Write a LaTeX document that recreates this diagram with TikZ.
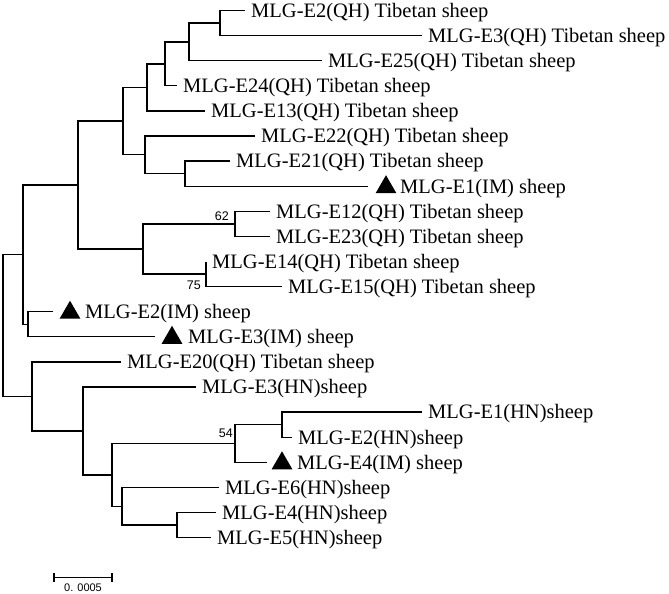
\documentclass[tikz,border=0pt]{standalone}
\usepackage{fontspec}
\setmainfont{Liberation Serif}
\newfontfamily\lsans{Liberation Sans}
\usetikzlibrary{shapes.geometric}
\begin{document}
\begin{tikzpicture}[x=1pt,y=-1pt,
  br/.style={line width=1.35pt},
  leaf/.style={anchor=west, inner xsep=6pt, inner ysep=0pt, text height=13.6pt, text depth=0pt, font=\fontsize{20.5}{24}\selectfont},
  leaftxt/.style={leaf, inner xsep=0pt},
  tri/.style={regular polygon, regular polygon sides=3, fill=black, minimum size=24pt, inner sep=0pt},
  boot/.style={font=\lsans\fontsize{12.5}{14}\selectfont, inner sep=0pt, anchor=east},
  scalelbl/.style={font=\lsans\fontsize{11}{12}\selectfont, inner sep=0pt}]
\useasboundingbox (0,0) rectangle (669,594);

% leaves
\node[leaf] (l0) at (245,10.5) {MLG-E2(QH) Tibetan sheep};
\node[leaf] (l1) at (422,35.6) {MLG-E3(QH) Tibetan sheep};
\node[leaf] (l2) at (322,60.7) {MLG-E25(QH) Tibetan sheep};
\node[leaf] (l3) at (177,85.8) {MLG-E24(QH) Tibetan sheep};
\node[leaf] (l4) at (205,110.9) {MLG-E13(QH) Tibetan sheep};
\node[leaf] (l5) at (255,136.0) {MLG-E22(QH) Tibetan sheep};
\node[leaf] (l6) at (230,161.1) {MLG-E21(QH) Tibetan sheep};
\coordinate (e7) at (368,186.2);
\node[tri] (t7) at (386,187.2) {};
\node[leaftxt] (l7) at (400,186.2) {MLG-E1(IM) sheep};
\node[leaf] (l8) at (270,211.3) {MLG-E12(QH) Tibetan sheep};
\node[leaf] (l9) at (270,236.4) {MLG-E23(QH) Tibetan sheep};
\node[leaf] (l10) at (206,261.5) {MLG-E14(QH) Tibetan sheep};
\node[leaf] (l11) at (282,286.6) {MLG-E15(QH) Tibetan sheep};
\coordinate (e12) at (53,311.7);
\node[tri] (t12) at (70,312.7) {};
\node[leaftxt] (l12) at (85,311.7) {MLG-E2(IM) sheep};
\coordinate (e13) at (155,336.8);
\node[tri] (t13) at (172,337.8) {};
\node[leaftxt] (l13) at (188,336.8) {MLG-E3(IM) sheep};
\node[leaf] (l14) at (121,361.9) {MLG-E20(QH) Tibetan sheep};
\node[leaf] (l15) at (196,387.0) {MLG-E3(HN)sheep};
\node[leaf] (l16) at (422,412.1) {MLG-E1(HN)sheep};
\node[leaf] (l17) at (292,437.2) {MLG-E2(HN)sheep};
\coordinate (e18) at (267,462.3);
\node[tri] (t18) at (282,463.3) {};
\node[leaftxt] (l18) at (297,462.3) {MLG-E4(IM) sheep};
\node[leaf] (l19) at (219,487.4) {MLG-E6(HN)sheep};
\node[leaf] (l20) at (216,512.5) {MLG-E4(HN)sheep};
\node[leaf] (l21) at (211,537.6) {MLG-E5(HN)sheep};

% internal nodes
\coordinate (K) at (220,23.05);
\coordinate (J) at (189,41.9);
\coordinate (I) at (165,63.85);
\coordinate (G) at (147,87.4);
\coordinate (L) at (185,173.65);
\coordinate (H) at (145,154.8);
\coordinate (E) at (123,121.1);
\coordinate (M) at (235,223.85);
\coordinate (N) at (206,274.05);
\coordinate (F) at (143,248.95);
\coordinate (C) at (78,185.0);
\coordinate (D) at (28,324.25);
\coordinate (A) at (23,254.6);
\coordinate (T) at (282,424.65);
\coordinate (Q) at (235,443.5);
\coordinate (U) at (177,525.05);
\coordinate (S) at (122,506.2);
\coordinate (P) at (112,474.85);
\coordinate (O) at (83,430.9);
\coordinate (B) at (32,396.4);
\coordinate (R) at (3,325.5);

% branches
\draw[br] (l0.west) -| (K) |- (l1.west);
\draw[br] (K) -| (J) |- (l2.west);
\draw[br] (J) -| (I) |- (l3.west);
\draw[br] (I) -| (G) |- (l4.west);
\draw[br] (l6.west) -| (L) |- (e7);
\draw[br] (l5.west) -| (H) |- (L);
\draw[br] (G) -| (E) |- (H);
\draw[br] (l8.west) -| (M) |- (l9.west);
\draw[br] (l10.west) -| (N) |- (l11.west);
\draw[br] (M) -| (F) |- (N);
\draw[br] (E) -| (C) |- (F);
\draw[br] (e12) -| (D) |- (e13);
\draw[br] (C) -| (A) |- (D);
\draw[br] (l16.west) -| (T) |- (l17.west);
\draw[br] (T) -| (Q) |- (e18);
\draw[br] (l20.west) -| (U) |- (l21.west);
\draw[br] (l19.west) -| (S) |- (U);
\draw[br] (Q) -| (P) |- (S);
\draw[br] (l15.west) -| (O) |- (P);
\draw[br] (l14.west) -| (B) |- (O);
\draw[br] (A) -| (R) |- (B);

% bootstrap values
\node[boot] (b62) at (229,216) {62};
\node[boot] (b75) at (201,285) {75};
\node[boot] (b54) at (233,433) {54};

% scale bar
\coordinate (s1) at (54,577.7);
\coordinate (s2) at (112,577.7);
\draw[br] (s1) -- (s2);
\draw[br] ([yshift=4.5pt]s1) -- ([yshift=-4.5pt]s1);
\draw[br] ([yshift=4.5pt]s2) -- ([yshift=-4.5pt]s2);
\node[scalelbl] (sl) at (83,588) {0. 0005};
\end{tikzpicture}
\end{document}
